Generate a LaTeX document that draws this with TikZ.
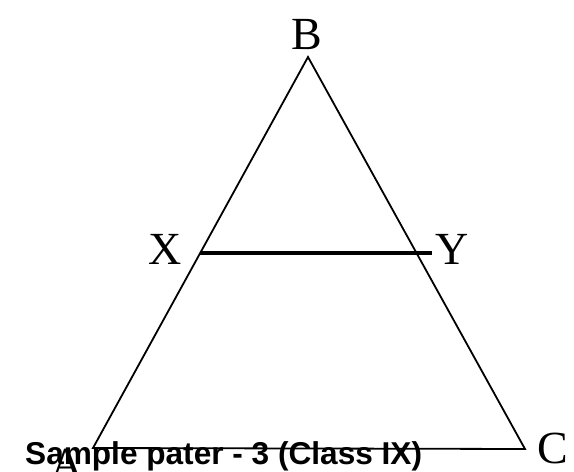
\documentclass[tikz,border=0pt]{standalone}
\usepackage{fontspec}
\setmainfont{Liberation Serif}
\newfontfamily\stampfont{Liberation Sans}
\usepackage{tikz}

\begin{document}
\begin{tikzpicture}[x=1pt, y=1pt,
    corner/.style={font=\fontsize{46}{46}\selectfont, inner sep=0pt, anchor=base},
    side/.style={line width=1.8pt, draw=black, line join=miter},
    midline/.style={line width=4.5pt, draw=black},
    stamp/.style={font=\stampfont\bfseries\fontsize{31.6}{31.6}\selectfont, inner sep=0pt, anchor=base west}]

    \useasboundingbox (0,0) rectangle (574,472);

    \coordinate (A) at (93,24);
    \coordinate (B) at (308,415);
    \coordinate (C) at (525,23);
    \coordinate (X) at (200,219);
    \coordinate (Y) at (432,219);

    \node[corner] (labB) at (307,422) {B};
    \node[corner] (labX) at (165,207) {X};
    \node[corner] (labY) at (452,207) {Y};
    \node[corner] (labA) at (67,-8) {A};
    \node[corner] (labC) at (553,9) {C};

    \draw[side] (A) -- (B) -- (C) -- cycle;
    \draw[midline] (X) -- (Y);

    \node[stamp] (title) at (25,7) {Sample pater - 3 (Class IX)};
\end{tikzpicture}
\end{document}
